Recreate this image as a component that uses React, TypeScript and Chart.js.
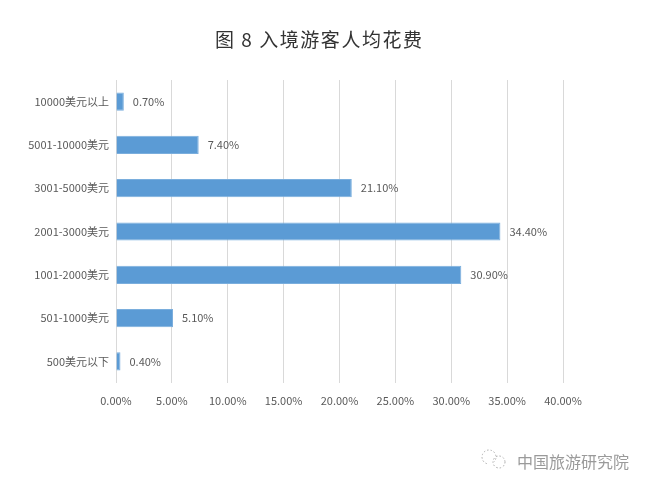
import React, { useEffect, useRef } from "react";
import { Chart, registerables } from "chart.js";

Chart.register(...registerables);

const titleText = "图 8 入境游客人均花费";
const categories = [
  "10000美元以上",
  "5001-10000美元",
  "3001-5000美元",
  "2001-3000美元",
  "1001-2000美元",
  "501-1000美元",
  "500美元以下",
];
const shares = [0.7, 7.4, 21.1, 34.4, 30.9, 5.1, 0.4];
const axisMin = 0;
const axisMax = 40;
const axisStep = 5;
const watermarkText = "中国旅游研究院";

const FONT = "'Noto Sans CJK SC', 'Noto Sans', sans-serif";
const TEXT = "#595959";

const decorPlugin = {
  id: "decor",
  afterDatasetsDraw(chart: any) {
    const ctx = chart.ctx as CanvasRenderingContext2D;
    const meta = chart.getDatasetMeta(0);
    ctx.save();
    ctx.font = `11px ${FONT}`;
    ctx.fillStyle = TEXT;
    ctx.textAlign = "left";
    ctx.textBaseline = "middle";
    meta.data.forEach((el: any, i: number) => {
      ctx.fillText(shares[i].toFixed(2) + "%", el.x + 9, el.y);
    });
    ctx.restore();
  },
  afterDraw(chart: any) {
    const ctx = chart.ctx as CanvasRenderingContext2D;
    ctx.save();
    // title
    ctx.font = `19px ${FONT}`;
    ctx.fillStyle = "#333333";
    ctx.textBaseline = "middle";
    ctx.textAlign = "left";
    const chars = Array.from(titleText);
    const w0 = ctx.measureText(titleText).width;
    const target = 207;
    const extra = (target - w0) / (chars.length - 1);
    let x = 215;
    chars.forEach((c) => {
      ctx.fillText(c, x, 40);
      x += ctx.measureText(c).width + extra;
    });
    // watermark icon
    ctx.strokeStyle = "#a8a8a8";
    ctx.lineWidth = 1;
    ctx.setLineDash([1.5, 2]);
    ctx.beginPath();
    ctx.arc(489, 457, 7, Math.PI * 0.6, Math.PI * 2.25);
    ctx.stroke();
    ctx.beginPath();
    ctx.arc(499, 462, 6, 0, Math.PI * 2);
    ctx.stroke();
    ctx.setLineDash([]);
    // watermark text
    ctx.font = `16px ${FONT}`;
    ctx.fillStyle = "#9a9a9a";
    ctx.fillText(watermarkText, 517, 462);
    ctx.restore();
  },
};

export default function App() {
  const ref = useRef<HTMLCanvasElement | null>(null);
  useEffect(() => {
    if (!ref.current) return;
    const chart = new Chart(ref.current, {
      type: "bar",
      data: {
        labels: categories,
        datasets: [
          {
            data: shares,
            backgroundColor: "#5B9BD5",
            borderColor: "#7AAEDD",
            borderWidth: 1,
            barPercentage: 0.42,
            categoryPercentage: 1,
          },
        ],
      },
      options: {
        indexAxis: "y",
        responsive: false,
        animation: false,
        layout: { padding: { top: 80, right: 87, left: 0, bottom: 83 } },
        plugins: {
          legend: { display: false },
          title: { display: false },
          tooltip: { enabled: false },
        },
        scales: {
          x: {
            min: axisMin,
            max: axisMax,
            afterFit: (s: any) => {
              s.height = 30;
            },
            ticks: {
              stepSize: axisStep,
              padding: 11,
              color: TEXT,
              font: { family: FONT, size: 11 },
              callback: (v: any) => Number(v).toFixed(2) + "%",
            },
            grid: { color: "#D9D9D9", lineWidth: 1, drawTicks: false },
            border: { display: false },
          },
          y: {
            afterFit: (s: any) => {
              s.width = 116;
            },
            ticks: {
              padding: 7,
              color: TEXT,
              font: { family: FONT, size: 11 },
            },
            grid: { display: false, drawTicks: false },
            border: { display: false },
          },
        },
      },
      plugins: [decorPlugin],
    });
    return () => chart.destroy();
  }, []);
  return (
    <div style={{ position: "absolute", left: 0, top: 0, width: 650, height: 496, background: "#fff" }}>
      <canvas ref={ref} width={650} height={496} />
    </div>
  );
}
